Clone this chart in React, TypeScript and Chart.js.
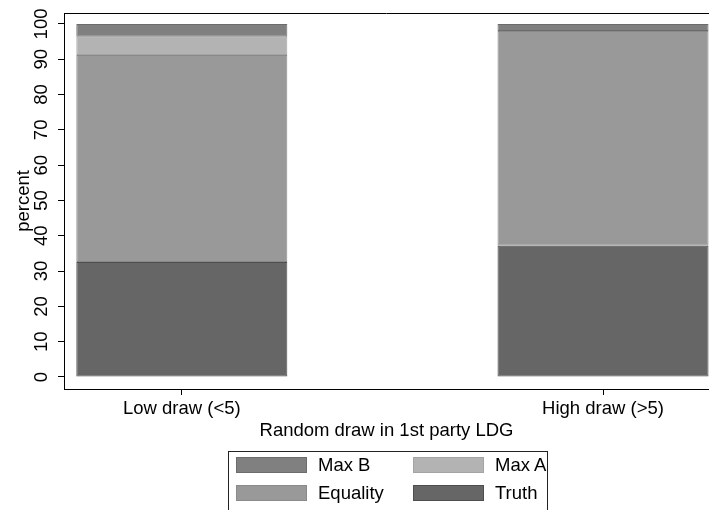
import React, { useEffect, useRef } from "react";
import { Chart, registerables } from "chart.js";

Chart.register(...registerables);

// ---- data ----
const categories = ["Low draw (<5)", "High draw (>5)"];
const truth = [32.6, 37.2];
const equality = [58.6, 60.8];
const maxA = [5.2, 0];
const maxB = [3.6, 2.0];
const yTicks = [0, 10, 20, 30, 40, 50, 60, 70, 80, 90, 100];
const seriesNames = ["Truth", "Equality", "Max A", "Max B"];
const legendOrder = ["Max B", "Max A", "Equality", "Truth"];

const FONT = "'Liberation Sans', Arial, Helvetica, sans-serif";
const FS = 18.5;

const fills: Record<string, string> = {
  "Truth": "#666666",
  "Equality": "#999999",
  "Max A": "#b3b3b3",
  "Max B": "#808080",
};
const borders: Record<string, string> = {
  "Truth": "#4e4e4e",
  "Equality": "#8a8a8a",
  "Max A": "#a4a4a4",
  "Max B": "#6c6c6c",
};

const seriesValues: Record<string, number[]> = {
  "Truth": truth,
  "Equality": equality,
  "Max A": maxA,
  "Max B": maxB,
};

const framePlugin = {
  id: "frameAndYLabels",
  afterDraw(chart: any) {
    const { ctx, chartArea } = chart;
    const ys = chart.scales.y;
    ctx.save();
    // top frame line
    ctx.strokeStyle = "#000";
    ctx.lineWidth = 1;
    ctx.beginPath();
    ctx.moveTo(chartArea.left, chartArea.top + 0.5);
    ctx.lineTo(chartArea.right, chartArea.top + 0.5);
    ctx.stroke();
    // rotated y tick labels
    ctx.fillStyle = "#000";
    ctx.font = `${FS}px ${FONT}`;
    ctx.textAlign = "center";
    ctx.textBaseline = "middle";
    for (const v of yTicks) {
      const py = ys.getPixelForValue(v);
      ctx.save();
      ctx.translate(chartArea.left - 22, py);
      ctx.rotate(-Math.PI / 2);
      ctx.fillText(String(v), 0, 0);
      ctx.restore();
    }
    ctx.restore();
  },
};

export default function App() {
  const canvasRef = useRef<HTMLCanvasElement | null>(null);

  useEffect(() => {
    document.body.style.margin = "0";
    document.body.style.overflow = "hidden";
    const canvas = canvasRef.current;
    if (!canvas) return;

    const datasets = seriesNames.map((name) => ({
      label: name,
      data: seriesValues[name].map((v, i) => ({ x: i, y: v })),
      backgroundColor: fills[name],
      borderColor: borders[name],
      borderWidth: 1,
      borderSkipped: false as const,
      categoryPercentage: 1,
      barPercentage: 0.501,
    }));

    const chart = new Chart(canvas, {
      type: "bar",
      data: { datasets },
      options: {
        animation: false,
        responsive: false,
        maintainAspectRatio: false,
        devicePixelRatio: 1,
        layout: { padding: { top: 13, left: 0, right: 0, bottom: 64 } },
        plugins: {
          legend: { display: false },
          tooltip: { enabled: false },
        },
        scales: {
          x: {
            type: "linear",
            stacked: true,
            offset: false,
            min: -0.2797,
            max: 1.2516,
            afterBuildTicks: (scale: any) => {
              scale.ticks = categories.map((_, i) => ({ value: i }));
            },
            afterFit: (scale: any) => {
              scale.height = 57;
            },
            grid: {
              display: true,
              drawOnChartArea: false,
              drawTicks: true,
              tickLength: 6,
              color: "#000",
              offset: false,
            },
            border: { display: true, color: "#000", width: 1 },
            ticks: {
              color: "#000",
              font: { family: FONT, size: FS },
              maxRotation: 0,
              autoSkip: false,
              padding: 3,
              callback: (v: any) => categories[Number(v)] ?? "",
            },
            title: {
              display: true,
              text: "Random draw in 1st party LDG",
              color: "#000",
              font: { family: FONT, size: FS },
              padding: { top: 4, bottom: 4 },
            },
          },
          y: {
            type: "linear",
            stacked: true,
            min: -3.4,
            max: 103.1,
            afterBuildTicks: (scale: any) => {
              scale.ticks = yTicks.map((v) => ({ value: v }));
            },
            afterFit: (scale: any) => {
              scale.width = 64;
            },
            grid: {
              display: true,
              drawOnChartArea: false,
              drawTicks: true,
              tickLength: 6,
              color: "#000",
            },
            border: { display: true, color: "#000", width: 1 },
            ticks: { display: false },
            title: {
              display: true,
              text: "percent",
              color: "#000",
              font: { family: FONT, size: FS },
              padding: { top: 13, bottom: 4 },
            },
          },
        },
      },
      plugins: [framePlugin],
    });

    return () => chart.destroy();
  }, []);

  const legendPos: Record<string, { left: number; top: number }> = {
    "Max B": { left: 236, top: 457 },
    "Max A": { left: 413, top: 457 },
    "Equality": { left: 236, top: 485 },
    "Truth": { left: 413, top: 485 },
  };

  return (
    <div style={{ position: "relative", width: 709, height: 510, overflow: "hidden", background: "#fff" }}>
      <canvas ref={canvasRef} width={709} height={510} style={{ display: "block", width: 709, height: 510 }} />
      <div
        style={{
          position: "absolute",
          left: 228,
          top: 451,
          width: 320,
          height: 70,
          border: "1px solid #222",
          boxSizing: "border-box",
        }}
      />
      {legendOrder.map((name) => (
        <div
          key={name}
          style={{
            position: "absolute",
            left: legendPos[name].left,
            top: legendPos[name].top,
            height: 16,
            display: "flex",
            alignItems: "center",
            fontFamily: FONT,
            fontSize: FS,
            color: "#000",
            whiteSpace: "nowrap",
          }}
        >
          <span
            style={{
              display: "inline-block",
              width: 71,
              height: 16,
              boxSizing: "border-box",
              background: fills[name],
              border: `1px solid ${borders[name]}`,
              marginRight: 11,
            }}
          />
          <span style={{ lineHeight: "16px" }}>{name}</span>
        </div>
      ))}
    </div>
  );
}
